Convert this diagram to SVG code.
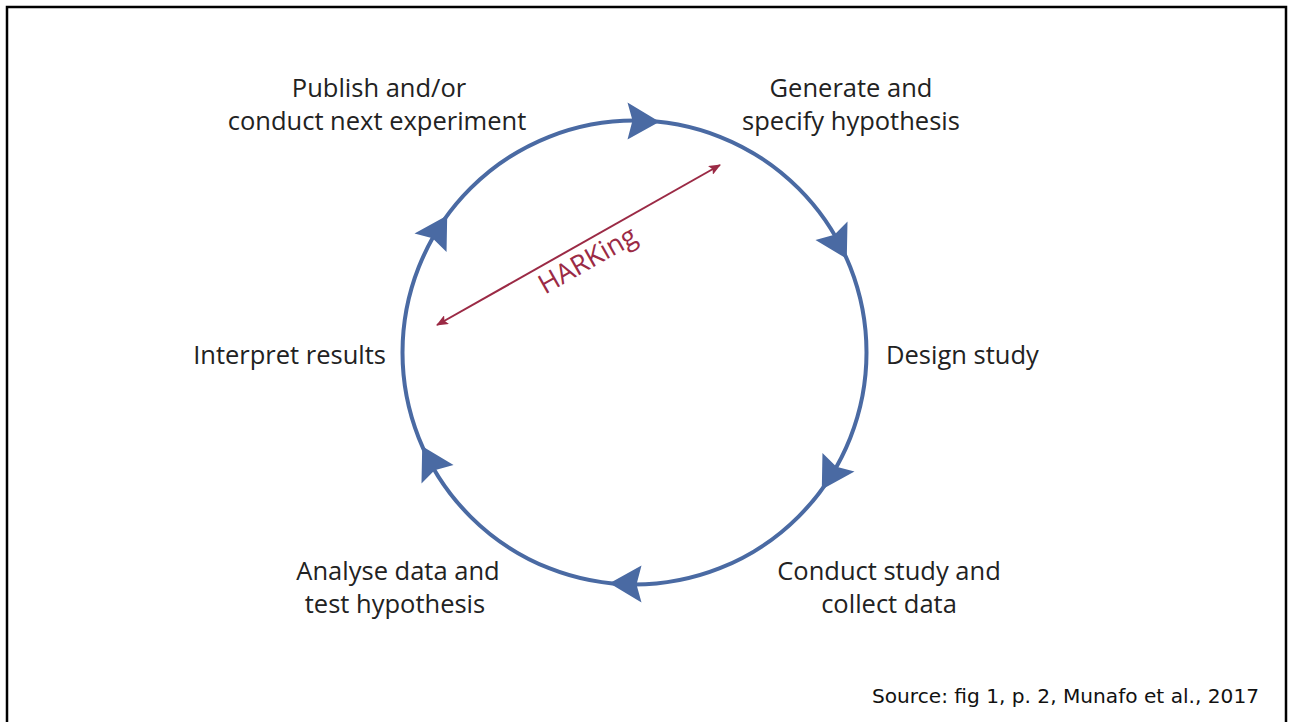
<svg xmlns="http://www.w3.org/2000/svg" width="1293" height="722" viewBox="0 0 1293 722">
  <style>
    .label { font-family: "Open Sans", "Noto Sans", "Liberation Sans", sans-serif; font-size: 25.5px; fill: #222222; }
    .cycle { fill: none; stroke: #4a6aa3; stroke-width: 4; }
    .head { fill: #4a6aa3; }
    .hark { stroke: #9b2a45; stroke-width: 2; fill: none; }
    .hark-text { font-family: "Open Sans", "Noto Sans", "Liberation Sans", sans-serif; font-size: 27px; fill: #9b2a45; }
    .source { font-family: "DejaVu Sans", "Liberation Sans", sans-serif; font-size: 20px; fill: #111111; }
  </style>
  <defs>
    <!-- notched arrowhead drawn at the top of the cycle, pointing clockwise -->
    <path id="cycleHead" d="M 25 1.3 L -7 -18 L -2 0 L -7 19 Z"/>
    <marker id="harkEnd" viewBox="0 0 12 10" refX="11" refY="5" markerWidth="12" markerHeight="10" markerUnits="userSpaceOnUse" orient="auto-start-reverse">
      <path d="M 0 0 L 12 5 L 0 10 L 2.5 5 Z" fill="#9b2a45"/>
    </marker>
  </defs>

  <rect width="1293" height="722" fill="#ffffff"/>
  <!-- frame, open at the bottom edge -->
  <path d="M 7 740 L 7 7 L 1286 7 L 1286 740" fill="none" stroke="#000000" stroke-width="2.5"/>

  <g id="connectors">
    <circle class="cycle" cx="634.5" cy="352.5" r="232"/>
    <g class="head">
      <use href="#cycleHead" transform="rotate(0 634.5 352.5) translate(634.5 120.5)"/>
      <use href="#cycleHead" transform="rotate(60 634.5 352.5) translate(634.5 120.5)"/>
      <use href="#cycleHead" transform="rotate(120 634.5 352.5) translate(634.5 120.5)"/>
      <use href="#cycleHead" transform="rotate(180 634.5 352.5) translate(634.5 120.5)"/>
      <use href="#cycleHead" transform="rotate(240 634.5 352.5) translate(634.5 120.5)"/>
      <use href="#cycleHead" transform="rotate(300 634.5 352.5) translate(634.5 120.5)"/>
    </g>
    <line class="hark" x1="437" y1="325" x2="720" y2="165" marker-start="url(#harkEnd)" marker-end="url(#harkEnd)"/>
    <text class="hark-text" text-anchor="middle" transform="translate(592 268) rotate(-29.5)">HARKing</text>
  </g>

  <g id="node-generate">
    <text class="label" x="851" y="97" text-anchor="middle">Generate and</text>
    <text class="label" x="851" y="130" text-anchor="middle">specify hypothesis</text>
  </g>
  <g id="node-design">
    <text class="label" x="886" y="364">Design study</text>
  </g>
  <g id="node-conduct">
    <text class="label" x="889" y="580" text-anchor="middle">Conduct study and</text>
    <text class="label" x="889" y="613" text-anchor="middle">collect data</text>
  </g>
  <g id="node-analyse">
    <text class="label" x="398" y="580" text-anchor="middle">Analyse data and</text>
    <text class="label" x="395" y="613" text-anchor="middle">test hypothesis</text>
  </g>
  <g id="node-interpret">
    <text class="label" x="386" y="364" text-anchor="end">Interpret results</text>
  </g>
  <g id="node-publish">
    <text class="label" x="379" y="97" text-anchor="middle">Publish and/or</text>
    <text class="label" x="377" y="130" text-anchor="middle">conduct next experiment</text>
  </g>

  <text class="source" x="872" y="703" textLength="387" lengthAdjust="spacingAndGlyphs">Source: fig 1, p. 2, Munafo et al., 2017</text>
</svg>
